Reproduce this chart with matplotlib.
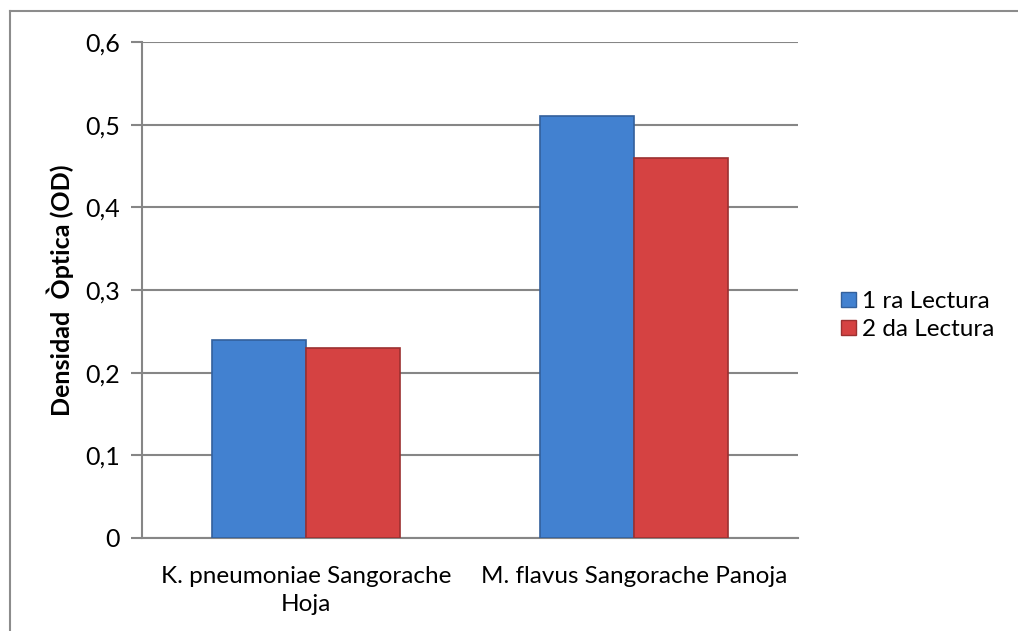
import numpy as np
import matplotlib
matplotlib.use("Agg")
import matplotlib.pyplot as plt
from matplotlib.lines import Line2D
from matplotlib.patches import Patch

categories = ["K. pneumoniae Sangorache\nHoja", "M. flavus Sangorache Panoja"]
series_names = ["1 ra Lectura", "2 da Lectura"]
lectura1 = [0.24, 0.51]
lectura2 = [0.23, 0.46]
yticks = [0, 0.1, 0.2, 0.3, 0.4, 0.5, 0.6]
ytick_labels = ["0", "0,1", "0,2", "0,3", "0,4", "0,5", "0,6"]

plt.rcParams['font.family'] = ['Lato', 'DejaVu Sans']

fig = plt.figure(figsize=(10.18, 6.31), dpi=100)
ax = fig.add_axes([0.1395, 0.1474, 0.6444, 0.786])

grid_col = "#868686"
blue = "#4281d0"
blue_edge = "#33609c"
red = "#d54242"
red_edge = "#9c3030"

x = np.arange(len(categories))
w = 0.287
ax.bar(x - w / 2, lectura1, w, color=blue, edgecolor=blue_edge, linewidth=1.2, zorder=3)
ax.bar(x + w / 2, lectura2, w, color=red, edgecolor=red_edge, linewidth=1.2, zorder=3)

ax.set_xlim(-0.5, 1.5)
ax.set_ylim(0, 0.6)
ax.set_yticks(yticks)
ax.set_yticklabels(ytick_labels, fontsize=18)
ax.set_xticks(x)
ax.set_xticklabels(categories, fontsize=17.5, linespacing=1.4)
ax.tick_params(axis='x', length=0, pad=20)
ax.tick_params(axis='y', length=8, width=1.5, color=grid_col, pad=8)

ax.yaxis.grid(True, color=grid_col, linewidth=1.5, zorder=0)
ax.set_axisbelow(True)
for s in ['top', 'right']:
    ax.spines[s].set_visible(False)
for s in ['left', 'bottom']:
    ax.spines[s].set_color(grid_col)
    ax.spines[s].set_linewidth(1.5)

ax.set_ylabel("Densidad  Òptica (OD)", fontsize=18, fontweight='bold', labelpad=8)

handles = [Patch(facecolor=blue, edgecolor=blue_edge), Patch(facecolor=red, edgecolor=red_edge)]
fig.legend(handles, series_names, loc='center left', bbox_to_anchor=(0.805, 0.5),
           frameon=False, fontsize=17.5, handlelength=0.6, handleheight=0.6,
           handletextpad=0.25, labelspacing=0.3)

# outer chart frame (left and top edges visible)
fig.add_artist(Line2D([0.0098, 0.0098], [0, 0.9825], color="#8c8c8c", linewidth=1.5))
fig.add_artist(Line2D([0.0098, 1.0], [0.9825, 0.9825], color="#8c8c8c", linewidth=1.5))

fig.savefig("out.png", dpi=100)
